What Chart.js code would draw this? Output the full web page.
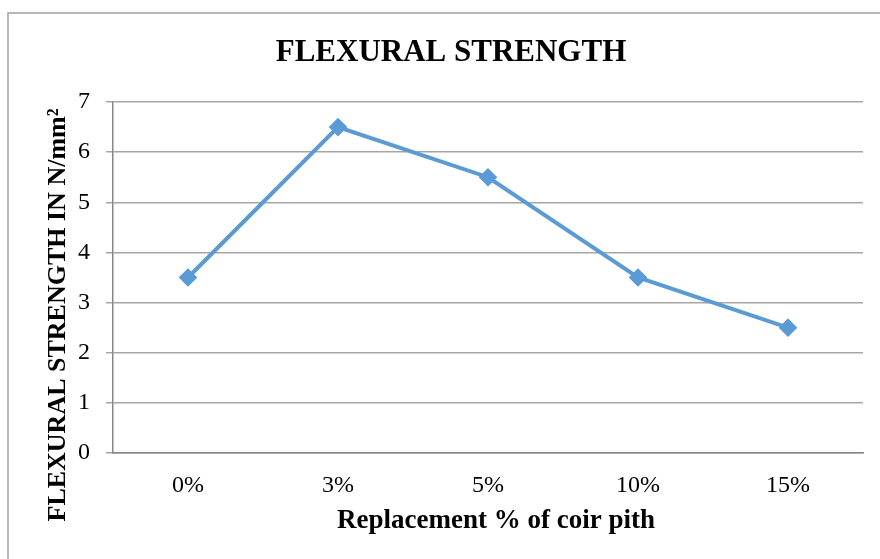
<!DOCTYPE html>
<html>
<head>
<meta charset="utf-8">
<script src="https://cdn.jsdelivr.net/npm/chart.js@4"></script>
<style>
  html, body { margin: 0; padding: 0; background: #fff; }
  #wrap { width: 880px; height: 559px; }
</style>
</head>
<body>
<div id="wrap"><canvas id="chartFlex" width="880" height="559"></canvas></div>
<script>
// 데이터
const categories = ['0%', '3%', '5%', '10%', '15%'];
const strengthValues = [3.5, 6.5, 5.5, 3.5, 2.5];
const yTicks = [0, 1, 2, 3, 4, 5, 6, 7];

const chartTitle = 'FLEXURAL STRENGTH';
const yTitle = 'FLEXURAL STRENGTH IN N/mm²';
const xTitle = 'Replacement % of coir pith';

const serif = "'Liberation Serif', 'Times New Roman', serif";
const lineColor = '#5b9bd5';

// 바깥 테두리 + 제목들 (엑셀 차트처럼 프레임 기준으로 배치)
const framePlugin = {
  id: 'framePlugin',
  beforeDraw(chart) {
    const c = chart.ctx;
    c.save();
    c.fillStyle = '#fff';
    c.fillRect(0, 0, chart.width, chart.height);
    c.strokeStyle = '#a0a0a0';
    c.lineWidth = 1.5;
    c.strokeRect(8, 13, chart.width + 20, chart.height + 20);
    c.restore();
  },
  afterDraw(chart) {
    const c = chart.ctx;
    c.save();
    c.fillStyle = '#000';
    c.textAlign = 'center';

    // 차트 제목
    c.font = `bold 31px ${serif}`;
    c.textBaseline = 'middle';
    c.fillText(chartTitle, 451, 53);

    // x축 제목
    c.font = `bold 27px ${serif}`;
    c.fillText(xTitle, 496, 521);

    // y축 제목
    c.translate(65, 315);
    c.rotate(-Math.PI / 2);
    c.font = `bold 26px ${serif}`;
    c.textBaseline = 'alphabetic';
    c.fillText(yTitle, 0, 0);
    c.restore();
  },
};

const ctx = document.getElementById('chartFlex').getContext('2d');
const chart = new Chart(ctx, {
  type: 'line',
  data: {
    labels: categories,
    datasets: [
      {
        label: chartTitle,
        data: strengthValues,
        borderColor: lineColor,
        backgroundColor: lineColor,
        borderWidth: 4,
        pointStyle: 'rectRot',
        pointRadius: 6.5,
        pointHoverRadius: 6.5,
        tension: 0,
      },
    ],
  },
  options: {
    responsive: false,
    animation: { duration: 0 },
    layout: { padding: { left: 0, right: 17, top: 102, bottom: 0 } },
    plugins: {
      legend: { display: false },
      tooltip: { enabled: false },
      title: { display: false },
    },
    scales: {
      x: {
        offset: true,
        grid: { display: false, drawTicks: false },
        border: { display: true, color: '#868686', width: 1.5 },
        ticks: {
          color: '#000',
          font: { family: serif, size: 24 },
          padding: 18,
          maxRotation: 0,
        },
        afterFit(scale) {
          scale.height = 106;
        },
      },
      y: {
        min: yTicks[0],
        max: yTicks[yTicks.length - 1],
        grid: {
          color: '#a6a6a6',
          lineWidth: 1.5,
          tickLength: 7,
        },
        border: { display: true, color: '#868686', width: 1.5 },
        afterBuildTicks(scale) {
          scale.ticks = yTicks.map((v) => ({ value: v }));
        },
        ticks: {
          color: '#000',
          font: { family: serif, size: 24 },
          padding: 16,
        },
        afterFit(scale) {
          scale.width = 113;
        },
      },
    },
  },
  plugins: [framePlugin],
});
</script>
</body>
</html>
